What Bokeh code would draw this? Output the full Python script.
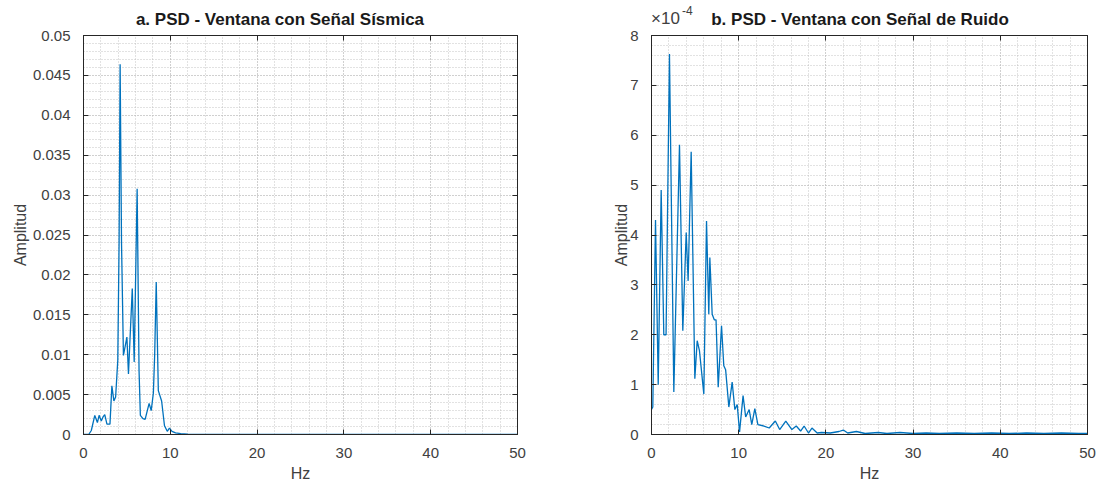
from bokeh.plotting import figure
from bokeh.layouts import row, column
from bokeh.models import FixedTicker, LinearAxis, CustomJSTickFormatter, Range1d, Div
from bokeh.embed import file_html
from bokeh.resources import INLINE

# ---------------- data ----------------
seismic_hz = [0.0, 0.6, 0.9, 1.3, 1.6, 1.8, 2.05, 2.25, 2.45, 2.7, 3.05, 3.27, 3.5, 3.7,
              3.95, 4.1, 4.22, 4.38, 4.6, 5.0, 5.18, 5.62, 5.84, 6.18, 6.4, 6.55, 6.85,
              7.1, 7.56, 7.8, 8.05, 8.2, 8.38, 8.62, 9.0, 9.33, 9.65, 9.9, 10.2, 10.6,
              11.2, 12.0, 14.0, 20.0, 30.0, 40.0, 50.0]
seismic_psd = [0.0, 0.0, 0.0005, 0.0024, 0.0015, 0.0024, 0.0017, 0.0022, 0.0025, 0.0013,
               0.0013, 0.0061, 0.0042, 0.0047, 0.0093, 0.024, 0.0464, 0.024, 0.0099, 0.0122,
               0.0076, 0.0183, 0.0091, 0.0308, 0.008, 0.0024, 0.002, 0.0019, 0.0039, 0.003,
               0.0052, 0.01, 0.0191, 0.0055, 0.0042, 0.0011, 0.0004, 0.0008, 0.0004, 0.0002,
               0.0001, 0.00004, 0.00002, 0.00001, 0.00001, 0.00001, 0.00001]

noise_hz = [0.0, 0.15, 0.46, 0.77, 1.11, 1.41, 1.67, 2.06, 2.56, 3.21, 3.59, 3.98, 4.2,
            4.55, 4.97, 5.24, 5.5, 6.0, 6.31, 6.57, 6.69, 6.96, 7.2, 7.4, 7.65, 8.03, 8.29,
            8.5, 8.87, 9.25, 9.56, 9.83, 10.1, 10.5, 10.8, 11.2, 11.5, 11.85, 12.2, 12.9,
            13.5, 14.2, 14.7, 15.4, 16.1, 16.6, 17.1, 17.5, 18.0, 18.4, 19.0, 19.5, 20.5,
            21.5, 22.0, 22.5, 23.5, 24.5, 26.0, 27.0, 28.5, 30.0, 31.5, 33.0, 35.0, 37.0,
            39.0, 41.0, 43.0, 45.0, 47.0, 49.0, 50.0]
noise_psd_e4 = [0.5, 0.55, 4.3, 1.0, 4.9, 2.0, 2.0, 7.63, 0.85, 5.81, 2.08, 4.05, 3.08,
                5.67, 1.12, 1.88, 1.68, 0.81, 4.28, 2.41, 3.55, 2.41, 2.3, 2.3, 0.95, 2.18, 1.38,
                1.3, 0.55, 1.05, 0.5, 0.6, 0.05, 0.78, 0.35, 0.5, 0.2, 0.52, 0.2, 0.17,
                0.13, 0.27, 0.1, 0.27, 0.1, 0.17, 0.07, 0.17, 0.03, 0.13, 0.03, 0.04, 0.03,
                0.06, 0.09, 0.03, 0.06, 0.02, 0.04, 0.02, 0.04, 0.02, 0.03, 0.02, 0.03, 0.02,
                0.03, 0.02, 0.03, 0.02, 0.03, 0.02, 0.02]
noise_psd = [v * 1e-4 for v in noise_psd_e4]

x_ticks = [0, 10, 20, 30, 40, 50]
x_minor = list(range(0, 51, 2))
seis_y_ticks = [round(i * 0.005, 3) for i in range(11)]
seis_y_minor = [round(i * 0.001, 3) for i in range(51)]
noise_y_ticks = [i * 1e-4 for i in range(9)]
noise_y_minor = [i * 0.2e-4 for i in range(41)]

titles = ["a. PSD - Ventana con Señal Sísmica", "b. PSD - Ventana con Señal de Ruido"]
exponent_base = "×10"
exponent_power = "-4"

FONT = "Liberation Sans"
DARK = "#262626"
TXT = "#404040"
GRID = "#b8b8b8"
LINE = "#0072BD"
HEAD_H = 27


def style_axis(ax, ticker, fmt=None, labels=True):
    ax.ticker = ticker
    if fmt is not None:
        ax.formatter = fmt
    ax.major_tick_in = 5
    ax.major_tick_out = 0
    ax.minor_tick_line_color = None
    ax.major_tick_line_color = DARK
    ax.axis_line_color = DARK
    ax.major_label_text_font = FONT
    ax.major_label_text_color = TXT
    if labels:
        ax.major_label_text_font_size = "15px"
    else:
        ax.major_label_text_font_size = "0px"
        ax.major_label_text_color = None
        ax.major_label_standoff = 0


def make_fig(hz, psd, yticks, yminor, ymax, fmt_js, left_b, right_b, frame_w, ylab_standoff):
    p = figure(width=left_b + frame_w + right_b, height=486 - HEAD_H,
               x_range=Range1d(0, 50), y_range=Range1d(0, ymax),
               output_backend="svg", toolbar_location=None,
               min_border_left=left_b, min_border_right=right_b,
               min_border_top=35 - HEAD_H, min_border_bottom=52, margin=0)
    p.background_fill_color = "white"
    p.border_fill_color = "white"
    p.outline_line_color = DARK
    p.outline_line_width = 1

    xt = FixedTicker(ticks=x_ticks, minor_ticks=x_minor)
    yt = FixedTicker(ticks=yticks, minor_ticks=yminor)
    yfmt = CustomJSTickFormatter(code=fmt_js)

    style_axis(p.xaxis[0], xt)
    style_axis(p.yaxis[0], yt, yfmt)
    p.xaxis[0].major_label_standoff = 9
    p.yaxis[0].major_label_standoff = 9
    p.xaxis[0].axis_label = "Hz"
    p.yaxis[0].axis_label = "Amplitud"
    for ax in (p.xaxis[0], p.yaxis[0]):
        ax.axis_label_text_font = FONT
        ax.axis_label_text_font_size = "16px"
        ax.axis_label_text_font_style = "normal"
        ax.axis_label_text_color = TXT
    p.xaxis[0].axis_label_standoff = 4
    p.yaxis[0].axis_label_standoff = ylab_standoff

    top = LinearAxis()
    style_axis(top, xt, labels=False)
    right = LinearAxis()
    style_axis(right, yt, labels=False)
    p.add_layout(top, "above")
    p.add_layout(right, "right")

    for g in (p.xgrid[0], p.ygrid[0]):
        g.grid_line_color = GRID
        g.grid_line_dash = "1 2"
        g.grid_line_width = 1
        g.minor_grid_line_color = GRID
        g.minor_grid_line_dash = "1 2"
        g.minor_grid_line_width = 1
        g.grid_line_alpha = 0.8
        g.minor_grid_line_alpha = 0.8

    p.line(hz, psd, line_color=LINE, line_width=1.3)
    return p


def header(title, center_x, exp_left=None):
    html = ('<div style="position:relative;width:549px;height:%dpx;'
            'font-family:\'Liberation Sans\',Arial,sans-serif;">' % HEAD_H)
    html += ('<div style="position:absolute;left:%dpx;width:420px;top:13px;'
             'text-align:center;font-weight:bold;font-size:17px;line-height:14px;'
             'color:#1a1a1a;white-space:nowrap;">%s</div>' % (center_x - 210, title))
    if exp_left is not None:
        html += ('<div style="position:absolute;left:%dpx;top:12px;font-size:17px;'
                 'line-height:14px;color:%s;white-space:nowrap;">%s</div>'
                 % (exp_left, TXT, exponent_base))
        html += ('<div style="position:absolute;left:%dpx;top:6px;font-size:12px;'
                 'line-height:10px;color:%s;white-space:nowrap;">%s</div>'
                 % (exp_left + 31, TXT, exponent_power))
    html += '</div>'
    return Div(text=html, width=549, height=HEAD_H, margin=0)


p1 = make_fig(seismic_hz, seismic_psd, seis_y_ticks, seis_y_minor, 0.05,
              "return Number(tick.toFixed(4)).toString();", 83, 32, 434, 1)
p2 = make_fig(noise_hz, noise_psd, noise_y_ticks, noise_y_minor, 8e-4,
              "return Math.round(tick * 1e4).toString();", 102, 11, 436, -3)

h1 = header(titles[0], 280)
h2 = header(titles[1], 311, exp_left=102)

layout = column(row(h1, h2, spacing=0), row(p1, p2, spacing=0), spacing=0)
open("out.html", "w").write(file_html(layout, INLINE))
